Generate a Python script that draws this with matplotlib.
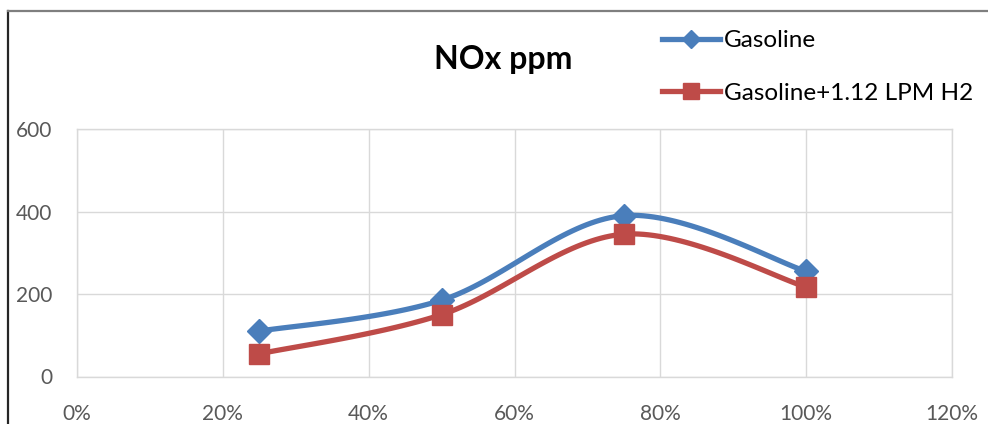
import matplotlib
matplotlib.use("Agg")
import matplotlib.pyplot as plt
import matplotlib.ticker as mticker
from matplotlib.lines import Line2D
import numpy as np

# ── data ──────────────────────────────────────────────────────────────────────
load = [0.25, 0.50, 0.75, 1.00]
nox_gasoline = [110, 185, 390, 255]
nox_h2 = [55, 150, 345, 217]

x_ticks = [0, 0.2, 0.4, 0.6, 0.8, 1.0, 1.2]
y_ticks = [0, 200, 400, 600]

blue = "#4A7EBB"
red = "#BE4B48"
grey_txt = "#595959"

plt.rcParams.update({
    "font.family": ["Lato", "DejaVu Sans"],
    "font.size": 13,
})


# excel-like smoothed line (catmull-rom through the points)
def smooth(x, y, n=40):
    p = np.column_stack([x, y]).astype(float)
    p = np.vstack([p[0], p, p[-1]])
    out = []
    for i in range(1, len(p) - 2):
        p0, p1, p2, p3 = p[i - 1], p[i], p[i + 1], p[i + 2]
        c1 = p1 + (p2 - p0) / 6
        c2 = p2 - (p3 - p1) / 6
        t = np.linspace(0, 1, n)[:, None]
        seg = ((1 - t) ** 3) * p1 + 3 * ((1 - t) ** 2) * t * c1 \
            + 3 * (1 - t) * t ** 2 * c2 + t ** 3 * p2
        out.append(seg if i == 1 else seg[1:])
    out = np.vstack(out)
    return out[:, 0], out[:, 1]


fig = plt.figure(figsize=(9.88, 4.24), dpi=100)
ax = fig.add_axes([77 / 988, 1 - 376.5 / 424, (952 - 77) / 988, (376.5 - 129) / 424])

for ys, col, mk, ms in [(nox_gasoline, blue, "D", 12), (nox_h2, red, "s", 14)]:
    sx, sy = smooth(load, ys)
    ax.plot(sx, sy, color=col, lw=3.8, solid_capstyle="round", zorder=3)
    ax.plot(load, ys, ls="none", marker=mk, ms=ms, color=col, zorder=4)

ax.set_xlim(0, 1.2)
ax.set_ylim(0, 600)
ax.set_xticks(x_ticks)
ax.set_yticks(y_ticks)
ax.xaxis.set_major_formatter(mticker.FuncFormatter(lambda v, _: f"{v * 100:.0f}%"))
ax.grid(True, color="#D9D9D9", lw=1)
ax.set_axisbelow(True)
for s in ax.spines.values():
    s.set_color("#D9D9D9")
    s.set_linewidth(1)
ax.tick_params(length=0, labelsize=15, colors=grey_txt)
ax.tick_params(axis="x", pad=20)
ax.tick_params(axis="y", pad=18)

fig.text(503 / 988, 1 - 60 / 424, "NOx ppm", ha="center", va="center",
         fontsize=23, fontweight="bold", color="black")

# legend in top right corner
handles = [
    Line2D([0], [0], color=blue, lw=3.8, marker="D", ms=9),
    Line2D([0], [0], color=red, lw=3.8, marker="s", ms=12),
]
fig.legend(handles, ["Gasoline", "Gasoline+1.12 LPM H2"],
           loc="upper left", bbox_to_anchor=(662 / 988, 1 - 30 / 424),
           frameon=False, fontsize=17.5, labelspacing=1.3,
           handlelength=2.4, handletextpad=0.15, borderpad=0,
           borderaxespad=0)

# chart border (left and top visible)
fig.add_artist(Line2D([7.5 / 988, 7.5 / 988], [0, 1 - 11 / 424],
                      transform=fig.transFigure, color="#262626", lw=1.6))
fig.add_artist(Line2D([7.5 / 988, 1], [1 - 11 / 424, 1 - 11 / 424],
                      transform=fig.transFigure, color="#7F7F7F", lw=1.6))

fig.savefig("out.png", dpi=100)
